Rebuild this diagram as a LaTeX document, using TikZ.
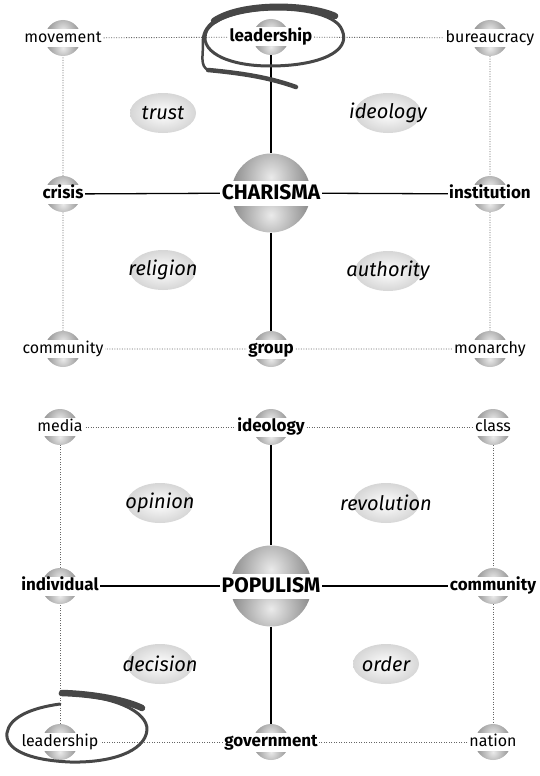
\documentclass[tikz,border=0pt]{standalone}
\usepackage{fontspec}
\setmainfont{Fira Sans}
\pgfdeclarelayer{background}
\pgfsetlayers{background,main}
\tikzset{
  ball/.style={circle, minimum size=#1, inner sep=0pt, path picture={
      \shade[inner color=white!92!black, outer color=black!55]
        ([yshift=-0.22*#1]path picture bounding box.north) circle (0.62*#1);
      \begin{scope}
        \clip (path picture bounding box.west) rectangle (path picture bounding box.south east);
        \shade[inner color=white!92!black, outer color=black!55]
          ([yshift=0.22*#1]path picture bounding box.south) circle (0.62*#1);
      \end{scope}}},
  oval/.style={ellipse, minimum width=66pt, minimum height=40pt, inner sep=0pt,
      inner color=white, outer color=black!16},
  lab/.style={fill=white, inner xsep=1.5pt, inner ysep=1pt, text height=12.5pt, text depth=3.5pt, font=\fontsize{16}{18}\selectfont},
  blab/.style={lab, text height=13.3pt, text depth=3.7pt, font=\fontsize{17}{19}\selectfont\bfseries},
  hlab/.style={lab, inner xsep=2pt, inner ysep=2pt, text height=16.6pt, text depth=4.4pt, font=\fontsize{21}{24}\selectfont\bfseries},
  ilab/.style={font=\fontsize{20}{24}\selectfont\itshape},
  dots/.style={draw=black!60, line width=0.9pt, dash pattern=on 0.9pt off 1.6pt},
  solid line/.style={draw=black, line width=1.3pt},
  brush/.style={draw=black!72, line cap=round, line join=round},
}
\usetikzlibrary{shapes.geometric}
\begin{document}
\begin{tikzpicture}[x=1pt,y=-1pt]
\useasboundingbox (0,0) rectangle (540,776);
% ---------------- top diagram: spheres
\node[ball=36] (mov) at (63,38) {};
\node[ball=36] (lea) at (271,37) {};
\node[ball=36] (bur) at (490,38) {};
\node[ball=36] (cri) at (63,194) {};
\node[ball=79] (cha) at (271,193) {};
\node[ball=36] (ins) at (490,194) {};
\node[ball=36] (com) at (63,349) {};
\node[ball=36] (gro) at (271,349) {};
\node[ball=36] (mon) at (490,349) {};
% ovals
\node[oval] (o1) at (163,113) {};
\node[oval] (o2) at (388,113) {};
\node[oval] (o3) at (163,270) {};
\node[oval] (o4) at (388,271) {};
% ---------------- bottom diagram: spheres
\node[ball=36] (med) at (60,427) {};
\node[ball=36] (ide) at (271,427) {};
\node[ball=36] (cla) at (493,427) {};
\node[ball=36] (ind) at (60,586) {};
\node[ball=81] (pop) at (271,586) {};
\node[ball=36] (cmb) at (493,586) {};
\node[ball=36] (ldb) at (60,742) {};
\node[ball=36] (gov) at (271,742) {};
\node[ball=36] (nat) at (493,742) {};
\node[oval] (o5) at (160,503) {};
\node[oval] (o6) at (386,503) {};
\node[oval] (o7) at (160,664) {};
\node[oval] (o8) at (386,664) {};
% ---------------- connectors
\begin{pgfonlayer}{background}
  \draw[dots] (mov) -- (lea) -- (bur) -- (ins) -- (mon) -- (gro) -- (com) -- (cri) -- (mov);
  \draw[solid line] (lea) -- (cha) -- (gro);
  \draw[solid line] (cri) -- (cha) -- (ins);
  \draw[dots] (med) -- (ide) -- (cla) -- (cmb) -- (nat) -- (gov) -- (ldb) -- (ind) -- (med);
  \draw[solid line] (ide) -- (pop) -- (gov);
  \draw[solid line] (ind) -- (pop) -- (cmb);
\end{pgfonlayer}
% ---------------- labels top
\node[lab]  (tmov) at (mov) {movement};
\node[blab] (tlea) at (lea) {leadership};
\node[lab]  (tbur) at (bur) {bureaucracy};
\node[blab] (tcri) at (cri) {crisis};
\node[hlab] (tcha) at (cha) {CHARISMA};
\node[blab] (tins) at (ins) {institution};
\node[lab]  (tcom) at (com) {community};
\node[blab] (tgro) at (gro) {group};
\node[lab]  (tmon) at (mon) {monarchy};
\node[ilab] (to1) at (o1) {trust};
\node[ilab] (to2) at (o2) {ideology};
\node[ilab] (to3) at (o3) {religion};
\node[ilab] (to4) at (o4) {authority};
% ---------------- labels bottom
\node[lab]  (tmed) at (med) {media};
\node[blab] (tide) at (ide) {ideology};
\node[lab]  (tcla) at (cla) {class};
\node[blab] (tind) at (ind) {individual};
\node[hlab] (tpop) at (pop) {POPULISM};
\node[blab] (tcmb) at (cmb) {community};
\node[lab]  (tldb) at (ldb) {leadership};
\node[blab] (tgov) at (gov) {government};
\node[lab]  (tnat) at (nat) {nation};
\node[ilab] (to5) at (o5) {opinion};
\node[ilab] (to6) at (o6) {revolution};
\node[ilab] (to7) at (o7) {decision};
\node[ilab] (to8) at (o8) {order};
% ---------------- brush circles
\draw[brush, line width=3pt] (342,30) .. controls (332,2) and (225,2) .. (207,30)
   .. controls (197,50) and (225,66) .. (270,66) .. controls (318,66) and (352,52) .. (342,30);
\draw[brush, line width=6.5pt] (214,21) .. controls (240,3) and (305,3) .. (335,16);
\draw[brush, line width=2.5pt] (214,21) .. controls (206,27) and (202,34) .. (203,44)
   .. controls (203,56) and (200,66) .. (208,70);
\draw[brush, line width=4.5pt] (208,70) .. controls (240,73) and (268,77) .. (296,87);
%
\draw[brush, line width=3pt] (60,694) .. controls (115,695) and (148,712) .. (147,730)
   .. controls (145,752) and (110,763) .. (70,762) .. controls (25,760) and (5,748) .. (7,733)
   .. controls (9,718) and (30,708) .. (60,704);
\draw[brush, line width=6.5pt] (62,693) .. controls (95,694) and (125,700) .. (142,708);
\end{tikzpicture}
\end{document}
